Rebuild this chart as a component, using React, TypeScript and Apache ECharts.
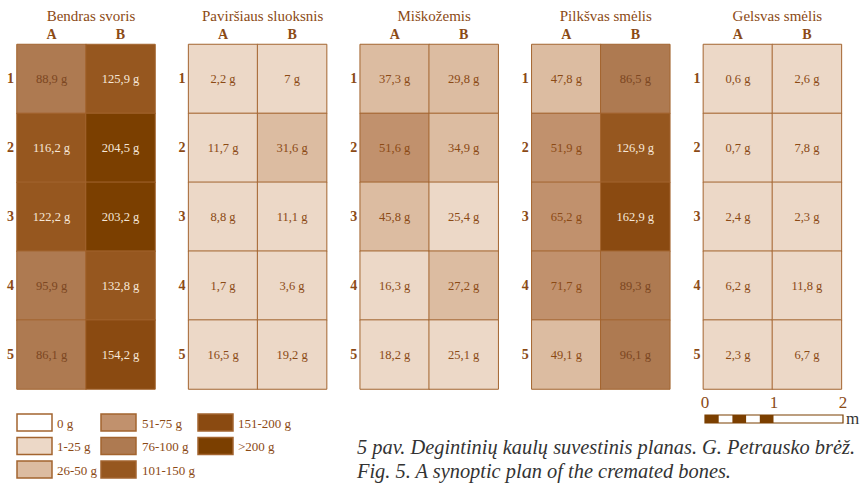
import React, { useEffect, useRef } from "react";
import * as echarts from "echarts";

const columns = ["A", "B"];
const rows = ["1", "2", "3", "4", "5"];
const panelTitles = ["Bendras svoris", "Paviršiaus sluoksnis", "Miškožemis", "Pilkšvas smėlis", "Gelsvas smėlis"];

const bendrasA = [88.9, 116.2, 122.2, 95.9, 86.1];
const bendrasB = [125.9, 204.5, 203.2, 132.8, 154.2];
const pavirsiausA = [2.2, 11.7, 8.8, 1.7, 16.5];
const pavirsiausB = [7, 31.6, 11.1, 3.6, 19.2];
const miskozemisA = [37.3, 51.6, 45.8, 16.3, 18.2];
const miskozemisB = [29.8, 34.9, 25.4, 27.2, 25.1];
const pilksvasA = [47.8, 51.9, 65.2, 71.7, 49.1];
const pilksvasB = [86.5, 126.9, 162.9, 89.3, 96.1];
const gelsvasA = [0.6, 0.7, 2.4, 6.2, 2.3];
const gelsvasB = [2.6, 7.8, 2.3, 11.8, 6.7];

const panels = [
  [bendrasA, bendrasB],
  [pavirsiausA, pavirsiausB],
  [miskozemisA, miskozemisB],
  [pilksvasA, pilksvasB],
  [gelsvasA, gelsvasB],
];

const classLabels = ["0 g", "1-25 g", "26-50 g", "51-75 g", "76-100 g", "101-150 g", "151-200 g", ">200 g"];
const classBounds = [0, 0, 26, 51, 76, 101, 151, 201]; // lower bounds (exclusive for class 1)
const classColors = ["#ffffff", "#ecd8c7", "#dcbca1", "#c1916d", "#ae7a51", "#96571f", "#8a4a11", "#7b3f00"];

const scaleLabels = ["0", "1", "2"];

const BROWN = "#8b4a15";
const LINE = "#a3642f";
const SERIF = "Liberation Serif";

function classIndex(v: number) {
  if (v === 0) return 0;
  let idx = 1;
  for (let i = 2; i < classBounds.length; i++) {
    if (v >= classBounds[i]) idx = i;
  }
  return idx;
}

function labelColor(v: number) {
  const c = classIndex(v);
  if (c >= 5) return "#f6e7d8";
  if (c === 4) return "#7c4722";
  return BROWN;
}

export default function App() {
  const ref = useRef<HTMLDivElement>(null);
  useEffect(() => {
    if (!ref.current) return;
    const chart = echarts.init(ref.current, undefined, { renderer: "svg" });
    const L0 = 17;
    const STEP = 171.6;
    const W = 138;
    const TOP = 44.5;
    const H = 344.5;

    const grids: any[] = [];
    const xAxes: any[] = [];
    const yAxes: any[] = [];
    const series: any[] = [];
    const titles: any[] = [];

    panels.forEach((p, i) => {
      const left = L0 + i * STEP;
      grids.push({ left, top: TOP, width: W, height: H });
      xAxes.push({
        type: "category",
        data: columns,
        gridIndex: i,
        position: "top",
        axisLine: { show: false },
        axisTick: { show: false },
        splitLine: { show: false },
        axisLabel: { color: BROWN, fontWeight: "bold", fontSize: 14, fontFamily: SERIF, margin: 3 },
      });
      yAxes.push({
        type: "category",
        data: rows,
        gridIndex: i,
        inverse: true,
        axisLine: { show: false },
        axisTick: { show: false },
        splitLine: { show: false },
        axisLabel: { color: BROWN, fontWeight: "bold", fontSize: 14, fontFamily: SERIF, margin: 3 },
      });
      const data: any[] = [];
      p.forEach((col, ci) => {
        col.forEach((v, ri) => {
          data.push({
            value: [ci, ri, v],
            label: { color: labelColor(v) },
          });
        });
      });
      series.push({
        type: "heatmap",
        xAxisIndex: i,
        yAxisIndex: i,
        data,
        itemStyle: { borderColor: LINE, borderWidth: 1 },
        label: {
          show: true,
          fontSize: 12.5,
          fontFamily: SERIF,
          formatter: (pr: any) => String(pr.value[2]).replace(".", ",") + " g",
        },
        emphasis: { disabled: true },
      });
      titles.push({
        text: panelTitles[i],
        left: left + W / 2,
        top: 3,
        textAlign: "center",
        textStyle: { color: BROWN, fontSize: 15, fontWeight: "normal", fontFamily: SERIF },
      });
    });

    const pieces = classLabels.map((lab, i) => {
      if (i === 0) return { value: 0, color: classColors[0], label: lab };
      if (i === 1) return { gt: 0, lt: classBounds[2], color: classColors[i], label: lab };
      if (i === classLabels.length - 1) return { gte: classBounds[i], color: classColors[i], label: lab };
      return { gte: classBounds[i], lt: classBounds[i + 1], color: classColors[i], label: lab };
    });

    const graphics: any[] = [];
    // legend
    const legCols = [
      { bx: 17, tx: 57 },
      { bx: 101, tx: 142 },
      { bx: 198, tx: 238 },
    ];
    const legRows = [414, 437.5, 461];
    classLabels.forEach((lab, i) => {
      const c = Math.floor(i / 3);
      const r = i % 3;
      graphics.push({
        type: "rect",
        shape: { x: legCols[c].bx, y: legRows[r], width: 35, height: 17 },
        style: { fill: classColors[i], stroke: LINE, lineWidth: 1.5 },
      });
      graphics.push({
        type: "text",
        x: legCols[c].tx,
        y: legRows[r] + 9,
        style: { text: lab, fill: BROWN, font: `13px ${SERIF}`, textVerticalAlign: "middle" },
      });
    });
    // scale bar
    const sx0 = 705;
    const sx2 = 843;
    const seg = (773.5 - sx0) / 5;
    graphics.push({
      type: "rect",
      shape: { x: sx0, y: 415, width: sx2 - sx0, height: 8 },
      style: { fill: "#ffffff", stroke: "#7b3f00", lineWidth: 1.2 },
    });
    [0, 2, 4].forEach((k) => {
      graphics.push({
        type: "rect",
        shape: { x: sx0 + k * seg, y: 415, width: seg, height: 8 },
        style: { fill: "#7b3f00" },
      });
    });
    scaleLabels.forEach((s, k) => {
      graphics.push({
        type: "text",
        x: sx0 + k * ((sx2 - sx0) / 2),
        y: 402,
        style: { text: s, fill: BROWN, font: `17px ${SERIF}`, textAlign: "center", textVerticalAlign: "middle" },
      });
    });
    graphics.push({
      type: "text",
      x: 846,
      y: 418,
      style: { text: "m", fill: "#333333", font: `17px ${SERIF}`, textVerticalAlign: "middle" },
    });
    // caption
    graphics.push({
      type: "text",
      x: 357,
      y: 447,
      style: {
        text: "5 pav. Degintinių kaulų suvestinis planas. G. Petrausko brėž.",
        fill: "#333333",
        font: `italic 20.4px ${SERIF}`,
        textVerticalAlign: "middle",
      },
    });
    graphics.push({
      type: "text",
      x: 357,
      y: 471,
      style: {
        text: "Fig. 5. A synoptic plan of the cremated bones.",
        fill: "#333333",
        font: `italic 20.4px ${SERIF}`,
        textVerticalAlign: "middle",
      },
    });

    chart.setOption({
      animation: false,
      backgroundColor: "#ffffff",
      title: titles,
      grid: grids,
      xAxis: xAxes,
      yAxis: yAxes,
      visualMap: {
        type: "piecewise",
        show: false,
        dimension: 2,
        seriesIndex: [0, 1, 2, 3, 4],
        pieces,
      },
      series,
      graphic: graphics,
    });
    return () => chart.dispose();
  }, []);
  return (
    <div
      ref={ref}
      style={{ position: "fixed", left: 0, top: 0, width: 862, height: 483 }}
    />
  );
}
